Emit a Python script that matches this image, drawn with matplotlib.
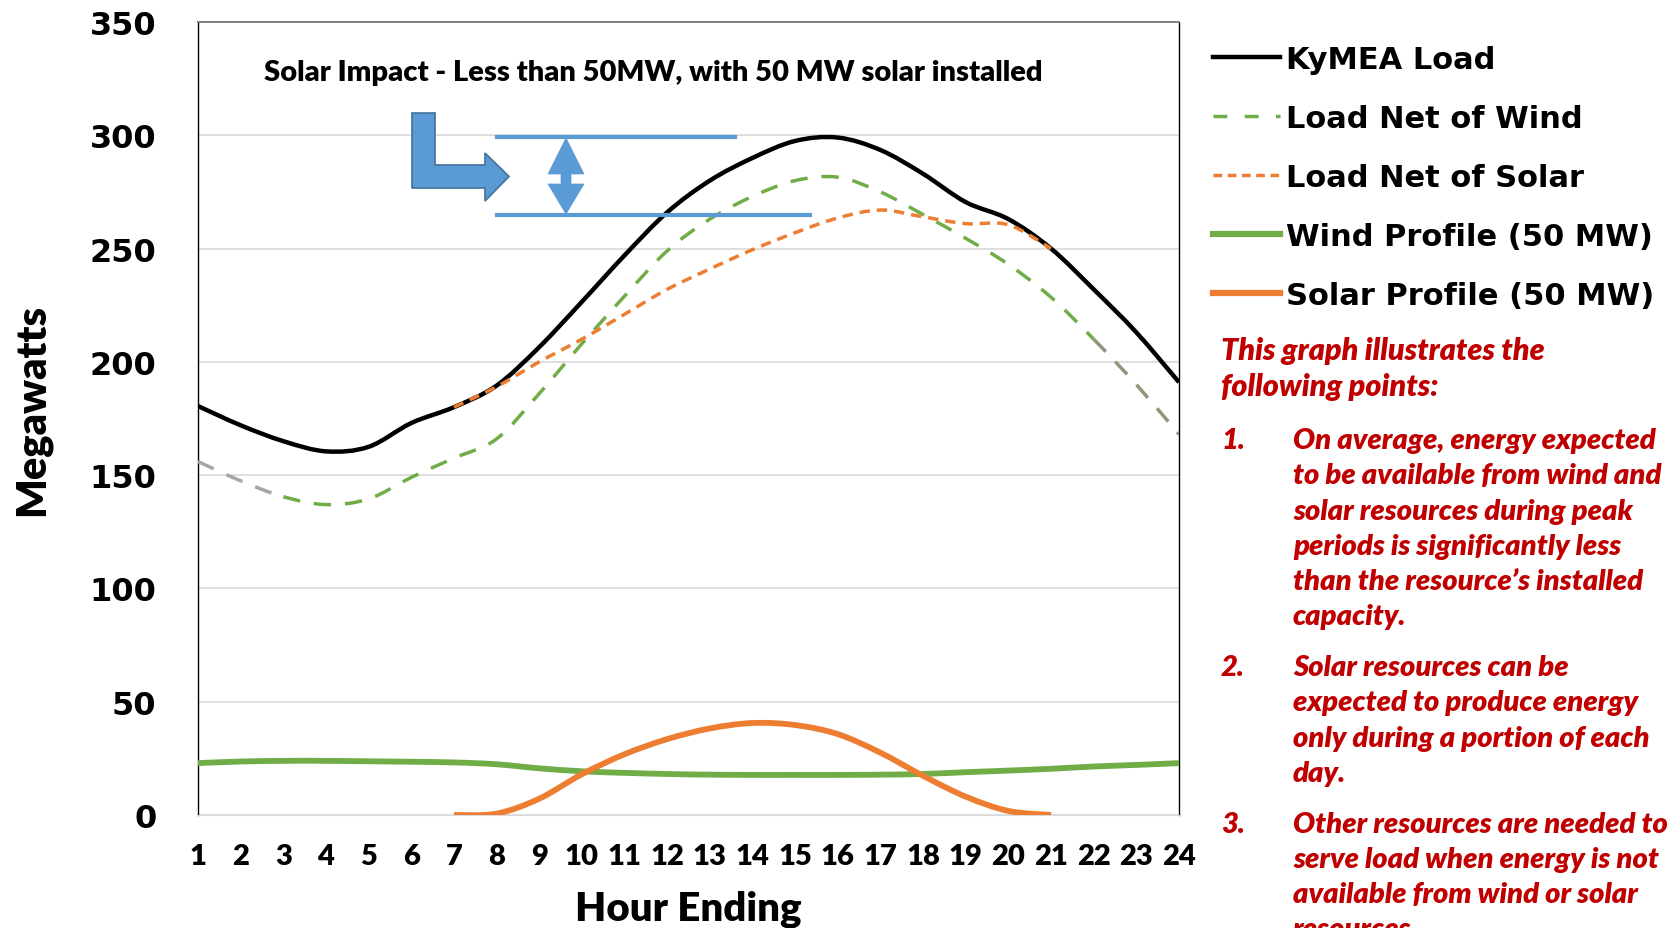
import numpy as np
import matplotlib
matplotlib.use('Agg')
import matplotlib.pyplot as plt
from matplotlib.path import Path
from matplotlib.patches import PathPatch, Polygon
from matplotlib.lines import Line2D

# hourly values (MW)
hours = list(range(1, 25))
kymea_load = [180.5, 172, 165, 160.5, 162.5, 173, 180, 189.5, 206.5, 226.5, 247, 266,
              280, 290, 297.5, 299, 293.5, 283, 270.5, 263, 250, 232, 213, 191]
net_of_wind = [156, 147.5, 140.5, 137, 139.5, 149, 157.5, 166, 186, 208, 229, 249,
               263, 273, 280, 281.5, 275, 265, 254.5, 243, 228.5, 210, 190, 168]
wind_profile = [22.9, 23.6, 23.9, 23.9, 23.7, 23.5, 23.2, 22.4, 20.6, 19.3, 18.6, 18.1,
                17.8, 17.7, 17.7, 17.7, 17.8, 18.1, 18.9, 19.6, 20.4, 21.4, 22.1, 22.9]
solar_hours = list(range(7, 22))
net_of_solar = [180, 189, 200, 210, 221, 232, 241, 249.5, 257, 263.5, 267, 264, 261, 260.5, 250]
solar_profile = [0, 0.6, 7.2, 18, 26.8, 33.5, 38.2, 40.6, 39.7, 35.7, 27.5, 17.3, 8.1, 1.8, 0]

legend_labels = ['KyMEA Load', 'Load Net of Wind', 'Load Net of Solar',
                 'Wind Profile (50 MW)', 'Solar Profile (50 MW)']
title_txt = 'Solar Impact - Less than 50MW, with 50 MW solar installed'
note_head = ['This graph illustrates the', 'following points:']
note_items = [
    ['On average, energy expected', 'to be available from wind and', 'solar resources during peak',
     'periods is significantly less', 'than the resource\u2019s installed', 'capacity.'],
    ['Solar resources can be', 'expected to produce energy', 'only during a portion of each', 'day.'],
    ['Other resources are needed to', 'serve load when energy is not',
     'available from wind or solar', 'resources.'],
]

BLACK = '#000000'
GREEN = '#70ad47'
ORANGE = '#ed7d31'
GRAY = '#a6a6a6'
OLIVE = '#8f9779'
BLUE = '#5b9bd5'
BLUE_EDGE = '#41719c'
RED = '#c00000'

W, H = 1671, 929


def smooth_segments(x, y):
    # excel style smoothed line: one cubic bezier per segment
    pts = np.column_stack([x, y]).astype(float)
    n = len(pts)
    segs = []
    for i in range(n - 1):
        p0 = pts[i - 1] if i > 0 else pts[i]
        p1, p2 = pts[i], pts[i + 1]
        p3 = pts[i + 2] if i + 2 < n else pts[i + 1]
        c1 = p1 + (p2 - p0) / 6.
        c2 = p2 - (p3 - p1) / 6.
        segs.append((p1, c1, c2, p2))
    return segs


def add_curve(ax, segs, color, lw, ls='-', z=2):
    verts = [segs[0][0]]
    codes = [Path.MOVETO]
    for s in segs:
        verts += [s[1], s[2], s[3]]
        codes += [Path.CURVE4] * 3
    ax.add_patch(PathPatch(Path(verts, codes), fill=False, edgecolor=color, lw=lw,
                           linestyle=ls, capstyle='butt', joinstyle='round', zorder=z))


fig = plt.figure(figsize=(W / 100., H / 100.), dpi=100)
fig.patch.set_facecolor('white')
ax = fig.add_axes([198 / W, 1 - 816 / H, (1179 - 198) / W, (816 - 23) / H])

ax.set_xlim(1, 24)
ax.set_ylim(0, 350)
ax.set_yticks(range(0, 351, 50))
ax.set_xticks(hours)
ax.grid(axis='y', color='#d9d9d9', lw=1.2)
ax.set_axisbelow(True)
for side in ['left', 'right']:
    ax.spines[side].set_color('#000000')
    ax.spines[side].set_linewidth(1.0)
ax.spines['top'].set_color('#7f7f7f')
ax.spines['top'].set_linewidth(1.4)
ax.spines['bottom'].set_color('#d9d9d9')
ax.tick_params(length=0)
ax.tick_params(axis='y', pad=30)
ax.tick_params(axis='x', pad=20)
for lab in ax.get_yticklabels():
    lab.set_fontfamily('DejaVu Sans')
    lab.set_fontweight('bold')
    lab.set_fontsize(23)
for lab in ax.get_xticklabels():
    lab.set_fontfamily('Lato')
    lab.set_fontweight('heavy')
    lab.set_fontsize(21)

# series
add_curve(ax, smooth_segments(hours, kymea_load), BLACK, 3.2, z=3)
wind_segs = smooth_segments(hours, net_of_wind)
dash_w = (0, (5, 4))
dash_s = (0, (3, 2))
add_curve(ax, wind_segs[:2], GRAY, 2.5, dash_w, z=4)
add_curve(ax, wind_segs[2:21], GREEN, 2.5, dash_w, z=4)
add_curve(ax, wind_segs[21:], OLIVE, 2.5, dash_w, z=4)
add_curve(ax, smooth_segments(solar_hours, net_of_solar), ORANGE, 2.5, dash_s, z=5)
add_curve(ax, smooth_segments(hours, wind_profile), GREEN, 4.2, z=6)
add_curve(ax, smooth_segments(solar_hours, solar_profile), ORANGE, 4.2, z=7)

# legend
handles = [Line2D([], [], color=BLACK, lw=3.2),
           Line2D([], [], color=GREEN, lw=2.5, ls=(0, (4, 5))),
           Line2D([], [], color=ORANGE, lw=2.5, ls=(0, (2.5, 1.6))),
           Line2D([], [], color=GREEN, lw=4.5),
           Line2D([], [], color=ORANGE, lw=4.5)]
leg = fig.legend(handles, legend_labels, loc='upper left', bbox_to_anchor=(1213 / W, 1 - 46 / H),
                 frameon=False, borderpad=0, borderaxespad=0, handlelength=2.2,
                 handletextpad=0.2, labelspacing=0.98,
                 prop={'family': 'DejaVu Sans', 'weight': 'bold', 'size': 22})

# axis titles
fig.text(688 / W, 1 - 909 / H, 'Hour Ending', ha='center', va='center',
         fontfamily='Lato', fontweight='heavy', fontsize=29)
fig.text(32 / W, 1 - 410 / H, 'Megawatts', ha='center', va='center', rotation=90,
         fontfamily='Lato', fontweight='heavy', fontsize=30)
fig.text(264 / W, 1 - 73.5 / H, title_txt, ha='left', va='center',
         fontfamily='Lato', fontweight='heavy', fontsize=21)

# blue markup: levels, double arrow, bent arrow
fig.add_artist(Line2D([497 / W, 735 / W], [1 - 137.5 / H] * 2, color=BLUE, lw=3))
fig.add_artist(Line2D([497 / W, 810 / W], [1 - 216 / H] * 2, color=BLUE, lw=3))
xc = 566
dbl = [(xc, 139), (xc + 18, 175), (xc + 5, 175), (xc + 5, 185), (xc + 18, 185), (xc, 215),
       (xc - 18, 185), (xc - 5, 185), (xc - 5, 175), (xc - 18, 175)]
fig.add_artist(Polygon([(px / W, 1 - py / H) for px, py in dbl], closed=True,
                       transform=fig.transFigure, facecolor=BLUE, edgecolor=BLUE, lw=0.5))
bent = [(412, 114), (435, 114), (435, 166), (485, 166), (485, 154), (509, 177.5),
        (485, 202), (485, 189), (412, 189)]
fig.add_artist(Polygon([(px / W, 1 - py / H) for px, py in bent], closed=True,
                       transform=fig.transFigure, facecolor=BLUE, edgecolor=BLUE_EDGE, lw=1.2))

# red notes on the right
note_kw = dict(fontfamily='Lato', fontweight='heavy', fontstyle='italic',
               color=RED, va='center', ha='left')
for i, line in enumerate(note_head):
    fig.text(1221 / W, 1 - (350.6 + 36 * i) / H, line, fontsize=22, **note_kw)
item_y = [441.2, 668.2, 824.9]
for k, (y0, lines) in enumerate(zip(item_y, note_items)):
    fig.text(1221 / W, 1 - y0 / H, '%d.' % (k + 1), fontsize=21, **note_kw)
    for i, line in enumerate(lines):
        fig.text(1293 / W, 1 - (y0 + 35.2 * i) / H, line, fontsize=21, **note_kw)

fig.savefig('out.png', dpi=100, facecolor='white')
